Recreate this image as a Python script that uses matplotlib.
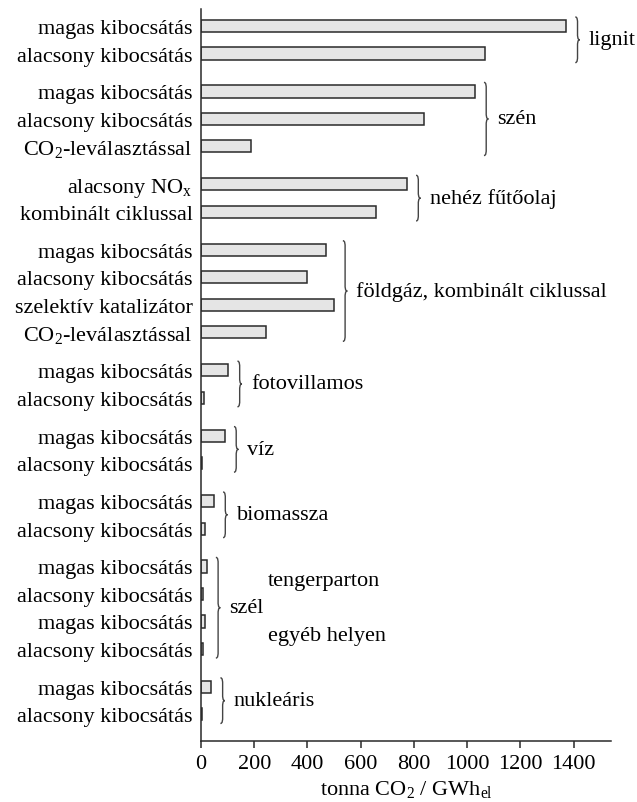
import matplotlib
matplotlib.use("Agg")
import matplotlib.pyplot as plt
from matplotlib.path import Path
from matplotlib.patches import PathPatch

plt.rcParams['font.family'] = ['Liberation Serif', 'DejaVu Serif']
plt.rcParams['mathtext.fontset'] = 'custom'
plt.rcParams['mathtext.rm'] = 'Liberation Serif'
plt.rcParams['mathtext.it'] = 'Liberation Serif:italic'
plt.rcParams['mathtext.bf'] = 'Liberation Serif:bold'

# ---- data ----
group_names = ["lignit", "szén", "nehéz fűtőolaj", "földgáz, kombinált ciklussal",
               "fotovillamos", "víz", "biomassza", "szél", "nukleáris"]
group_labels = [
    ["magas kibocsátás", "alacsony kibocsátás"],
    ["magas kibocsátás", "alacsony kibocsátás", "CO$_2$-leválasztással"],
    ["alacsony NO$_\\mathrm{x}$", "kombinált ciklussal"],
    ["magas kibocsátás", "alacsony kibocsátás", "szelektív katalizátor", "CO$_2$-leválasztással"],
    ["magas kibocsátás", "alacsony kibocsátás"],
    ["magas kibocsátás", "alacsony kibocsátás"],
    ["magas kibocsátás", "alacsony kibocsátás"],
    ["magas kibocsátás", "alacsony kibocsátás", "magas kibocsátás", "alacsony kibocsátás"],
    ["magas kibocsátás", "alacsony kibocsátás"],
]
group_values = [
    [1372, 1066],
    [1029, 837, 186],
    [774, 657],
    [469, 398, 499, 245],
    [103, 13],
    [90, 4],
    [49, 14],
    [22, 8, 15, 8],
    [39, 3],
]
wind_sublabels = ["tengerparton", "egyéb helyen"]
xticks = [0, 200, 400, 600, 800, 1000, 1200, 1400]
xlabel = r"tonna CO$_2$ / GWh$_\mathrm{el}$"

# ---- layout ----
W, H = 637, 803
fig = plt.figure(figsize=(W / 100, H / 100), dpi=100)
ax = fig.add_axes([201 / W, 61.5 / H, (611 - 201) / W, (793 - 61.5) / H])

step_gap = 1.38
cur = 0.0
group_pos = []
for gi, vals in enumerate(group_values):
    gp = []
    for j, v in enumerate(vals):
        gp.append(cur)
        cur += 1.0
    cur += step_gap - 1.0
    group_pos.append(gp)

fs = 16
all_pos, all_vals, all_labs = [], [], []
for gp, vals, labs in zip(group_pos, group_values, group_labels):
    all_pos += gp
    all_vals += vals
    all_labs += labs

ax.barh(all_pos, all_vals, height=0.44, color="#e5e5e5", edgecolor="#2a2a2a", linewidth=1.1)
ax.set_yticks(all_pos)
ax.set_yticklabels(all_labs, fontsize=fs)
ax.tick_params(axis='y', length=0, pad=6)
ax.set_ylim(all_pos[-1] + 0.95, all_pos[0] - 0.62)
ax.set_xlim(0, 1540)
ax.set_xticks(xticks)
ax.set_xticklabels([str(t) for t in xticks], fontsize=fs)
ax.tick_params(axis='x', direction='out', length=5, width=1.1, color="#2a2a2a", pad=5)
ax.set_xlabel(xlabel, fontsize=fs, labelpad=3)
for s in ['top', 'right']:
    ax.spines[s].set_visible(False)
for s in ['left', 'bottom']:
    ax.spines[s].set_linewidth(1.1)
    ax.spines[s].set_color("#2a2a2a")

# braces
def brace(ax, x, y1, y2, w, color="#444444"):
    ym = (y1 + y2) / 2
    q = 0.12
    xm = x + w * 0.5
    verts = [
        (x, y1),
        (xm, y1), (xm, y1 + q), (xm, y1 + 2 * q),
        (xm, ym - 2 * q),
        (xm, ym - q), (xm, ym), (x + w, ym),
        (xm, ym), (xm, ym + q), (xm, ym + 2 * q),
        (xm, y2 - 2 * q),
        (xm, y2 - q), (xm, y2), (x, y2),
    ]
    codes = [Path.MOVETO,
             Path.CURVE4, Path.CURVE4, Path.CURVE4,
             Path.LINETO,
             Path.CURVE4, Path.CURVE4, Path.CURVE4,
             Path.CURVE4, Path.CURVE4, Path.CURVE4,
             Path.LINETO,
             Path.CURVE4, Path.CURVE4, Path.CURVE4]
    ax.add_patch(PathPatch(Path(verts, codes), fill=False, edgecolor=color, lw=1.0,
                           clip_on=False))

px = 1540 / (611 - 201)  # data units per pixel
for gi, (gp, vals, name) in enumerate(zip(group_pos, group_values, group_names)):
    bx = max(vals) + 9 * px
    y1, y2 = gp[0] - 0.33, gp[-1] + 0.33
    bw = 4.5 * px
    brace(ax, bx, y1, y2, bw)
    ax.text(bx + bw + 9 * px, (gp[0] + gp[-1]) / 2, name, fontsize=fs,
            va='center', ha='left', clip_on=False)
    if name == "szél":
        ax.text(bx + 52 * px, (gp[0] + gp[1]) / 2, wind_sublabels[0], fontsize=fs,
                va='center', ha='left')
        ax.text(bx + 52 * px, (gp[2] + gp[3]) / 2, wind_sublabels[1], fontsize=fs,
                va='center', ha='left')

fig.savefig("out.png", dpi=100)
